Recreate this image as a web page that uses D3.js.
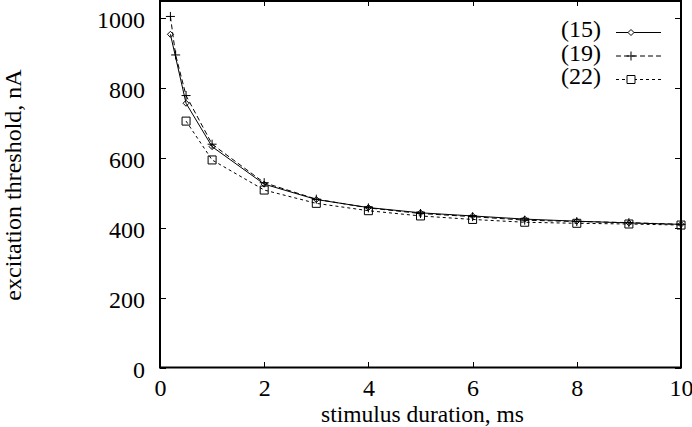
<!DOCTYPE html>
<html>
<head>
<meta charset="utf-8">
<script src="https://cdn.jsdelivr.net/npm/d3@7"></script>
<style>
  html, body { margin: 0; padding: 0; background: #fff; }
  svg text { font-family: "Liberation Serif", "Times New Roman", serif; fill: #000; }
</style>
</head>
<body>
<div id="chart"></div>
<script>
// Data
const duration15 = [0.2, 0.5, 1, 2, 3, 4, 5, 6, 7, 8, 9, 10];
const threshold15 = [952, 755, 631, 524, 480, 457, 442, 433, 424, 418, 413, 409];

const duration19 = [0.2, 0.3, 0.5, 1, 2, 3, 4, 5, 6, 7, 8, 9, 10];
const threshold19 = [1003, 893, 777, 638, 528, 481, 456, 440, 431, 421, 417, 414, 409];

const duration22 = [0.5, 1, 2, 3, 4, 5, 6, 7, 8, 9, 10];
const threshold22 = [704, 593, 507, 469, 448, 433, 423, 415, 412, 410, 407];

const seriesNames = ["(15)", "(19)", "(22)"];
const xTicks = [0, 2, 4, 6, 8, 10];
const yTicks = [0, 200, 400, 600, 800, 1000];

const W = 692, H = 427;
const margin = { top: 0, right: 11, bottom: 59.5, left: 160 };
const width = W - margin.left - margin.right;
const height = H - margin.top - margin.bottom;

const svg = d3.select("#chart")
  .append("svg")
  .attr("width", W)
  .attr("height", H)
  .append("g")
  .attr("transform", `translate(${margin.left},${margin.top})`);

const x = d3.scaleLinear().domain([0, 10]).range([0, width]);
const y = d3.scaleLinear().domain([0, 1050]).range([height, 0]);

// Axes with inward ticks, mirrored on top and right
const fontSize = 24;
const xAxis = svg.append("g")
  .attr("transform", `translate(0,${height})`)
  .call(d3.axisBottom(x).tickValues(xTicks).tickFormat(d3.format("d"))
    .tickSizeInner(-6).tickSizeOuter(0).tickPadding(11));
const yAxis = svg.append("g")
  .call(d3.axisLeft(y).tickValues(yTicks).tickFormat(d3.format("d"))
    .tickSizeInner(-6).tickSizeOuter(0).tickPadding(15));
const xTop = svg.append("g")
  .call(d3.axisTop(x).tickValues(xTicks).tickFormat("").tickSizeInner(-6).tickSizeOuter(0));
const yRight = svg.append("g")
  .attr("transform", `translate(${width},0)`)
  .call(d3.axisRight(y).tickValues(yTicks).tickFormat("").tickSizeInner(-6).tickSizeOuter(0));

[xAxis, yAxis, xTop, yRight].forEach(g => {
  g.select(".domain").remove();
  g.selectAll("line").attr("stroke", "#000").attr("shape-rendering", "crispEdges");
  g.selectAll("text")
    .style("font-size", fontSize + "px")
    .style("font-family", '"Liberation Serif", "Times New Roman", serif');
});
yAxis.selectAll("text").attr("dy", "0.4em");

// Frame
svg.append("rect")
  .attr("x", 0)
  .attr("y", y(1050) + 1)
  .attr("width", width)
  .attr("height", height - y(1050) - 1)
  .attr("fill", "none")
  .attr("stroke", "#000")
  .attr("stroke-width", 2);

// Axis titles
svg.append("text")
  .attr("x", width / 2 + 2)
  .attr("y", 421.5)
  .attr("text-anchor", "middle")
  .style("font-size", "23.5px")
  .text("stimulus duration, ms");

svg.append("text")
  .attr("transform", `translate(${21 - margin.left},185) rotate(-90)`)
  .attr("text-anchor", "middle")
  .style("font-size", fontSize + "px")
  .text("excitation threshold, nA");

// Marker shapes
const markers = {
  diamond: s => `M0,${-s}L${s},0L0,${s}L${-s},0Z`,
  plus: s => `M${-s},0H${s}M0,${-s}V${s}`,
  square: s => `M${-s},${-s}H${s}V${s}H${-s}Z`
};

const series = [
  { name: seriesNames[0], xs: duration15, ys: threshold15, dash: null, marker: "diamond", size: 3 },
  { name: seriesNames[1], xs: duration19, ys: threshold19, dash: "5,3", marker: "plus", size: 4.5 },
  { name: seriesNames[2], xs: duration22, ys: threshold22, dash: "3,3", marker: "square", size: 4 }
];

const line = d3.line().x(d => x(d[0])).y(d => y(d[1]));

series.forEach((s, i) => {
  const pts = s.xs.map((v, j) => [v, s.ys[j]]);
  svg.append("path")
    .datum(pts)
    .attr("d", line)
    .attr("fill", "none")
    .attr("stroke", "#000")
    .attr("stroke-width", 1)
    .attr("stroke-dasharray", s.dash);

  svg.append("g")
    .selectAll("path")
    .data(pts)
    .enter()
    .append("path")
      .attr("transform", d => `translate(${x(d[0])},${y(d[1])})`)
      .attr("d", markers[s.marker](s.size))
      .attr("fill", "none")
      .attr("stroke", "#000")
      .attr("stroke-width", 1);

  // legend row
  const ly = 32.5 + i * 23.5;
  const lg = svg.append("g").attr("transform", `translate(${-margin.left},0)`);
  lg.append("text")
    .attr("x", 601)
    .attr("y", ly + 4.5)
    .attr("text-anchor", "end")
    .style("font-size", fontSize + "px")
    .text(s.name);
  lg.append("line")
    .attr("x1", 616).attr("x2", 661)
    .attr("y1", ly).attr("y2", ly)
    .attr("stroke", "#000")
    .attr("stroke-width", 1)
    .attr("stroke-dasharray", s.dash);
  lg.append("path")
    .attr("transform", `translate(631,${ly})`)
    .attr("d", markers[s.marker](s.size))
    .attr("fill", "#fff")
    .attr("stroke", "#000")
    .attr("stroke-width", 1);
});
</script>
</body>
</html>
